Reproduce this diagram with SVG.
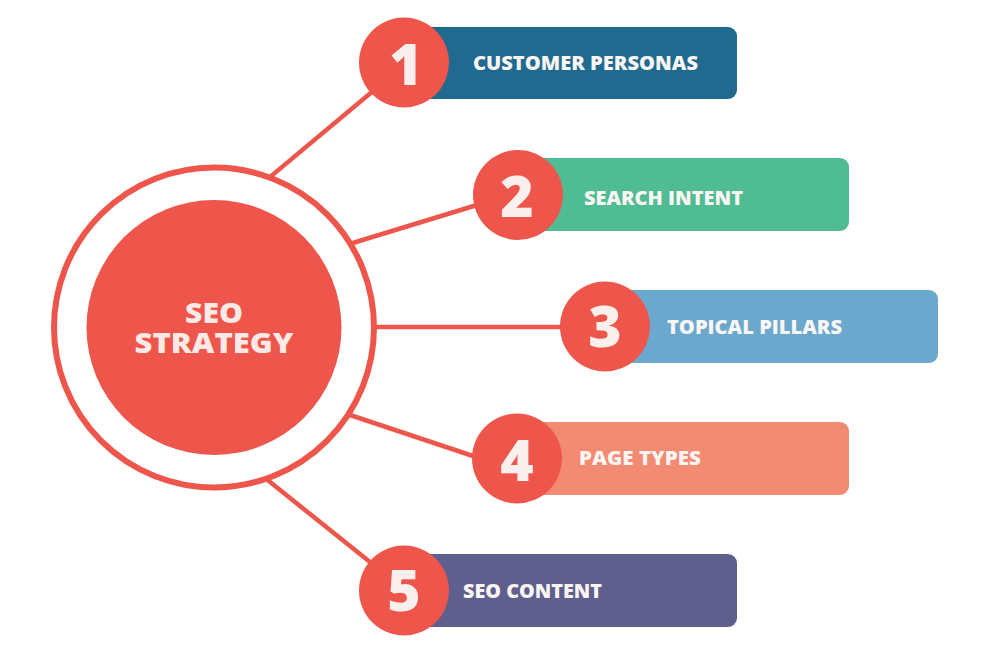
<svg xmlns="http://www.w3.org/2000/svg" width="990" height="653" viewBox="0 0 990 653">
<style>
.conn{stroke:#ee564b;stroke-width:4.5;fill:none}
.badge{fill:#ee564b}
.num{font-family:"Open Sans","DejaVu Sans",sans-serif;font-weight:800;font-size:57px;fill:#f9f0ee;text-anchor:middle}
.lbl{font-family:"Open Sans","DejaVu Sans",sans-serif;font-weight:800;font-size:20px;fill:#fbf5f3}
.hub{font-family:"Open Sans","DejaVu Sans",sans-serif;font-weight:800;font-size:28px;fill:#fde9e6;text-anchor:middle}
</style>
<rect width="990" height="653" fill="#ffffff"/>
<g id="connectors">
<line class="conn" x1="240" y1="202" x2="385" y2="81"/>
<line class="conn" x1="320" y1="253" x2="500" y2="198"/>
<line class="conn" x1="330" y1="327" x2="590" y2="327"/>
<line class="conn" x1="320" y1="405" x2="500" y2="465"/>
<line class="conn" x1="240" y1="458" x2="390" y2="578"/>
</g>
<g id="hub">
<circle cx="214" cy="327.5" r="160" fill="#ffffff" stroke="#ee564b" stroke-width="6"/>
<circle cx="214" cy="327.5" r="127.5" fill="#ee564b"/>
<text class="hub"><tspan x="214" y="323" textLength="58" lengthAdjust="spacingAndGlyphs">SEO</tspan><tspan x="214" y="353" textLength="159" lengthAdjust="spacingAndGlyphs">STRATEGY</tspan></text>
</g>
<g id="node1">
<rect x="404" y="27" width="333" height="72" rx="9" fill="#1f6a8e"/>
<circle class="badge" cx="404" cy="62.5" r="45"/>
<text class="num" x="406" y="85">1</text>
<text class="lbl" x="473" y="70" textLength="225" lengthAdjust="spacingAndGlyphs">CUSTOMER PERSONAS</text>
</g>
<g id="node2">
<rect x="518" y="158" width="331" height="73" rx="9" fill="#4fbc93"/>
<circle class="badge" cx="518" cy="195" r="45"/>
<text class="num" x="517" y="217">2</text>
<text class="lbl" x="584" y="205" textLength="159" lengthAdjust="spacingAndGlyphs">SEARCH INTENT</text>
</g>
<g id="node3">
<rect x="605" y="290" width="333" height="73" rx="9" fill="#6aa8cd"/>
<circle class="badge" cx="605" cy="326.5" r="45"/>
<text class="num" x="605" y="347">3</text>
<text class="lbl" x="667" y="334" textLength="175" lengthAdjust="spacingAndGlyphs">TOPICAL PILLARS</text>
</g>
<g id="node4">
<rect x="517" y="422" width="332" height="73" rx="9" fill="#f38b72"/>
<circle class="badge" cx="517" cy="458.5" r="45"/>
<text class="num" x="517" y="481">4</text>
<text class="lbl" x="579" y="465" textLength="122" lengthAdjust="spacingAndGlyphs">PAGE TYPES</text>
</g>
<g id="node5">
<rect x="404" y="554" width="333" height="73" rx="9" fill="#5f5f8d"/>
<circle class="badge" cx="404" cy="590.5" r="45"/>
<text class="num" x="404" y="611">5</text>
<text class="lbl" x="463" y="598" textLength="139" lengthAdjust="spacingAndGlyphs">SEO CONTENT</text>
</g>
</svg>
